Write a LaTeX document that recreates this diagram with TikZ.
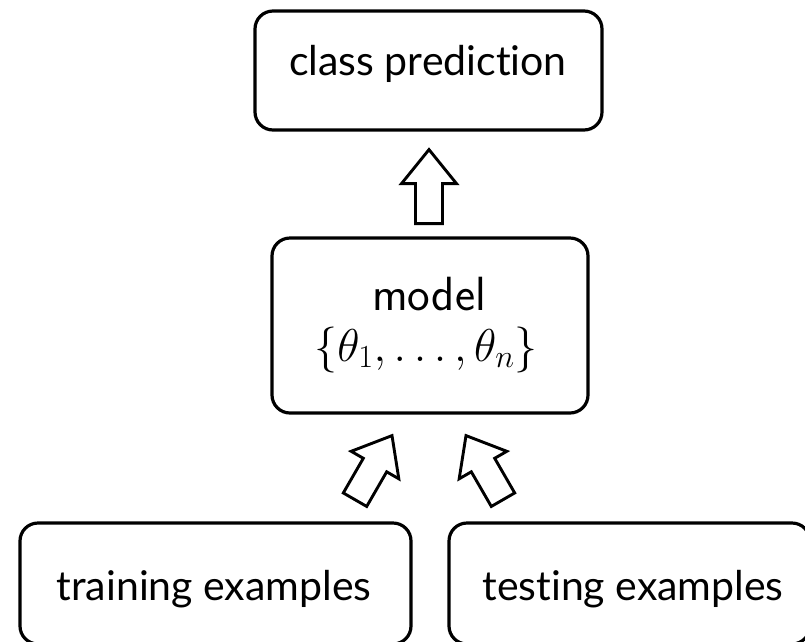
\RequirePackage{fix-cm}
\documentclass[tikz,border=0pt]{standalone}
\usepackage{fontspec}
\newfontfamily\labelfont[Ligatures={NoCommon,NoContextual}]{Lato}
\begin{document}
\begin{tikzpicture}[x=1pt,y=-1pt,
  box/.style={draw, line width=3.2pt, rounded corners=18pt, inner sep=0pt},
  lbl/.style={anchor=base, inner sep=0pt, font=\labelfont\fontsize{41}{48}\selectfont},
  hollowarrow/.pic={
    \draw[line width=2.9pt, line join=miter, fill=white]
      (0,0) -- (27.5,34) -- (13.5,34) -- (13.5,74) -- (-13.5,74)
      -- (-13.5,34) -- (-27.5,34) -- cycle;}]
\useasboundingbox (0,0) rectangle (805,641);
\clip (0,0) rectangle (805,641);

% boxes
\node[box, minimum width=347pt, minimum height=119pt] (pred)  at (428.5,70.5) {};
\node[box, minimum width=316pt, minimum height=175pt] (model) at (430,325.5) {};
\node[box, minimum width=391pt, minimum height=121pt] (train) at (215.5,583.5) {};
\node[box, minimum width=361pt, minimum height=121pt] (test)  at (629.5,583.5) {};

% labels
\node[lbl] (predtext)  at (428,75)  {class prediction};
\node[lbl] (traintext) at (214,600) {training examples};
\node[lbl] (testtext)  at (633,600) {testing examples};
\node[anchor=base, inner sep=0pt, font=\sffamily\fontsize{48}{54}\selectfont] (modeltext) at (429,310) {model};
\node[anchor=base, inner sep=0pt, font=\fontsize{46}{52}\selectfont] (params) at (426,361) {$\{\theta_1,\ldots,\theta_n\}$};

% hollow arrows, tips just below the receiving box
\coordinate (predin)  at ([xshift=0.5pt,yshift=-18pt]pred.south);
\coordinate (modelinl) at ([xshift=-38pt,yshift=-21pt]model.south);
\coordinate (modelinr) at ([xshift=36pt,yshift=-21pt]model.south);
\pic at (predin) {hollowarrow};
\pic[rotate=-30] at (modelinl) {hollowarrow};
\pic[rotate=30] at (modelinr) {hollowarrow};
\end{tikzpicture}
\end{document}
